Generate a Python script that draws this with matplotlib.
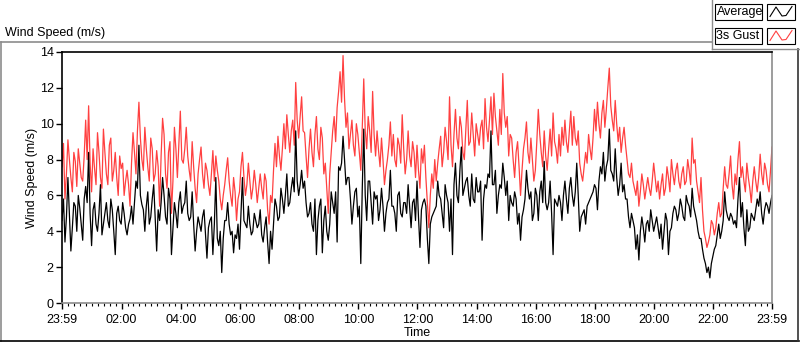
import numpy as np
import matplotlib.pyplot as plt
from matplotlib.lines import Line2D
from matplotlib.patches import Rectangle

plt.rcParams['font.family'] = ['Liberation Sans', 'DejaVu Sans']

# one reading every 3 minutes, starting at 23:59 of the previous day
STEP_MIN = 3

gust_ms = [
    # 23:59 - 04:00
    7.6, 8.9, 5.8, 7.2, 9.1, 8.0, 7.0, 6.2, 8.4, 7.9, 6.5, 8.6, 7.8, 7.0, 6.8, 8.2, 10.2, 8.0, 11.0, 7.8,
    6.2, 8.6, 7.5, 6.6, 9.5, 8.4, 7.0, 6.4, 9.7, 8.4, 7.2, 6.6, 8.8, 9.2, 6.8, 7.4, 8.4, 7.0, 6.0, 8.2,
    7.5, 7.8, 6.0, 6.8, 7.4, 6.6, 5.4, 7.8, 9.5, 8.4, 7.2, 9.6, 11.2, 9.2, 8.0, 7.4, 9.8, 8.6, 7.6, 6.8,
    9.2, 8.6, 6.8, 7.2, 8.5, 7.6, 5.4, 8.2, 10.3, 9.4, 7.2, 6.4, 8.4, 9.0, 5.0, 6.8, 9.8, 8.6, 7.0, 8.8,
    10.7, 8.0,
    # 04:00 - 08:00
    7.8, 8.6, 9.8, 8.2, 7.4, 6.8, 9.0, 7.6, 6.4, 5.6, 7.2, 8.0, 8.7, 7.2, 6.4, 7.8, 7.4, 6.6, 6.0, 7.2,
    8.5, 6.8, 8.2, 7.4, 6.8, 5.8, 5.2, 6.0, 6.6, 7.4, 8.1, 6.8, 6.0, 5.4, 7.0, 6.2, 4.6, 5.8, 6.2, 7.6,
    8.4, 7.0, 6.0, 6.6, 7.8, 6.8, 5.8, 6.4, 7.4, 6.6, 5.6, 6.4, 7.2, 6.4, 5.8, 7.2, 6.8, 5.2, 4.4, 6.0,
    5.6, 7.4, 8.9, 7.6, 9.3, 8.2, 7.4, 8.6, 10.0, 8.6, 10.5, 9.4, 8.4, 9.6, 10.2, 8.8, 12.3, 10.2, 9.2, 10.4,
    11.5, 9.6,
    # 08:00 - 12:00
    9.5, 8.2, 7.0, 8.6, 9.7, 8.4, 7.6, 9.4, 10.4, 8.6, 8.0, 9.8, 9.2, 7.2, 7.8, 6.4, 5.0, 7.2, 8.4, 9.6,
    10.4, 9.0, 10.9, 11.8, 12.9, 11.2, 13.8, 11.4, 9.8, 10.6, 8.6, 9.4, 10.2, 8.8, 8.2, 10.0, 9.4, 8.4, 7.4, 9.8,
    12.5, 9.6, 8.6, 10.4, 9.6, 8.4, 11.8, 9.4, 8.2, 9.6, 8.5, 7.6, 9.2, 8.0, 6.6, 7.4, 8.0, 8.8, 10.1, 8.2,
    9.4, 8.0, 7.6, 9.2, 8.8, 7.8, 10.5, 8.6, 7.2, 8.0, 9.6, 8.2, 7.6, 9.0, 8.4, 7.0, 8.8, 7.4, 6.4, 8.6,
    7.8, 8.8,
    # 12:00 - 16:00
    7.0, 5.6, 4.2, 6.0, 7.2, 6.4, 8.0, 6.8, 7.8, 8.6, 9.3, 7.6, 8.4, 9.8, 9.0, 8.0, 11.5, 8.8, 7.6, 9.4,
    10.8, 9.2, 8.6, 10.4, 9.8, 8.4, 8.0, 9.6, 11.3, 8.8, 9.0, 10.6, 9.4, 8.2, 10.0, 9.4, 8.8, 9.8, 10.2, 8.6,
    11.4, 9.8, 9.0, 10.2, 11.5, 9.4, 11.7, 10.4, 9.6, 8.8, 10.8, 9.4, 12.8, 10.6, 9.8, 10.4, 8.2, 9.4, 9.2, 8.0,
    7.0, 8.4, 9.0, 7.6, 6.0, 7.4, 8.6, 9.2, 10.1, 8.4, 7.8, 9.2, 8.0, 6.8, 7.4, 9.0, 10.8, 9.4, 8.4, 7.6,
    9.6, 8.2,
    # 16:00 - 20:00
    7.4, 8.6, 9.7, 8.2, 10.6, 9.0, 8.6, 7.8, 9.4, 8.2, 9.8, 8.8, 10.2, 9.0, 8.4, 9.6, 10.7, 8.8, 10.4, 9.2,
    8.8, 9.6, 7.8, 7.2, 6.8, 7.6, 8.4, 7.8, 9.4, 8.6, 8.0, 9.2, 10.8, 9.6, 11.2, 10.0, 9.2, 10.6, 11.3, 9.8,
    10.8, 12.0, 13.1, 11.0, 10.2, 9.6, 11.3, 10.0, 9.0, 9.8, 8.4, 9.2, 9.8, 8.8, 8.0, 7.2, 7.0, 7.8, 6.8, 6.4,
    6.0, 6.8, 5.4, 6.2, 7.2, 6.6, 5.8, 6.4, 7.0, 6.4, 6.0, 6.8, 7.8, 7.0, 6.2, 6.8, 5.8, 6.6, 7.2, 6.0,
    6.4, 7.6,
    # 20:00 - 23:59
    7.0, 6.2, 8.0, 7.2, 6.6, 7.4, 7.8, 6.8, 6.4, 7.2, 7.6, 6.6, 6.8, 8.0, 7.4, 6.6, 9.2, 7.8, 8.0, 6.8,
    6.2, 5.6, 7.0, 5.2, 4.0, 3.6, 3.1, 3.4, 3.8, 4.6, 4.4, 3.8, 4.2, 5.0, 5.6, 4.8, 5.0, 6.4, 7.6, 6.6,
    6.4, 7.2, 8.2, 6.6, 5.8, 7.2, 6.6, 8.0, 9.0, 7.0, 7.6, 6.8, 6.2, 7.8, 7.0, 6.4, 5.6, 6.8, 7.6, 6.8,
    6.2, 7.0, 8.3, 7.2, 6.6, 7.8, 7.4, 6.6, 6.2, 7.4, 8.7,
]

average_ms = [
    # 23:59 - 04:00
    4.6, 5.8, 3.4, 4.8, 7.0, 5.0, 2.9, 4.2, 5.6, 5.4, 4.0, 6.0, 5.3, 4.4, 3.5, 5.8, 6.5, 5.6, 8.4, 5.0,
    3.2, 5.2, 5.6, 4.4, 4.0, 5.0, 6.6, 3.8, 4.4, 5.0, 5.6, 4.6, 4.2, 5.8, 5.2, 4.0, 2.7, 5.0, 5.4, 4.6,
    4.4, 5.6, 5.0, 4.2, 3.8, 4.4, 4.7, 5.4, 4.4, 5.6, 6.8, 6.4, 8.8, 6.0, 5.5, 5.2, 4.0, 5.4, 6.2, 4.4,
    4.8, 5.8, 6.6, 4.8, 2.9, 5.2, 4.6, 5.6, 7.0, 6.0, 4.8, 4.4, 6.4, 5.8, 2.7, 4.2, 5.6, 5.0, 4.2, 5.6,
    6.2, 5.0,
    # 04:00 - 08:00
    5.4, 5.6, 6.8, 5.0, 4.6, 4.8, 6.2, 4.4, 2.9, 4.0, 4.8, 4.4, 4.0, 4.8, 5.2, 3.8, 2.5, 4.2, 4.6, 4.8,
    2.7, 4.4, 7.0, 3.6, 3.2, 4.0, 1.7, 3.6, 4.6, 4.6, 5.6, 4.4, 3.8, 4.0, 2.8, 3.8, 3.6, 4.4, 3.0, 5.0,
    7.0, 4.6, 4.4, 4.2, 5.4, 4.4, 3.8, 4.0, 5.0, 4.6, 4.2, 4.4, 5.2, 3.8, 3.4, 4.2, 4.8, 3.4, 2.2, 4.0,
    3.0, 4.4, 5.8, 5.4, 4.6, 4.8, 6.4, 5.8, 5.0, 6.0, 7.2, 5.4, 5.6, 6.4, 7.0, 6.2, 9.6, 6.8, 6.0, 6.6,
    7.4, 6.4,
    # 08:00 - 12:00
    6.8, 5.6, 4.8, 5.0, 5.6, 4.4, 4.0, 5.8, 2.7, 4.6, 5.4, 5.8, 2.8, 4.6, 5.4, 4.0, 3.5, 4.4, 6.2, 5.6,
    5.0, 6.2, 3.4, 7.6, 7.4, 7.8, 9.3, 8.0, 6.6, 7.0, 7.0, 5.8, 4.4, 5.4, 6.2, 6.4, 4.8, 5.4, 2.2, 6.4,
    9.7, 6.0, 4.6, 6.8, 6.8, 5.6, 4.4, 6.2, 5.8, 6.0, 4.6, 5.2, 6.4, 5.4, 4.0, 5.0, 5.6, 5.8, 7.4, 5.4,
    5.4, 5.0, 4.0, 6.0, 6.2, 5.0, 4.8, 5.6, 5.6, 5.0, 6.6, 5.4, 4.2, 5.6, 5.8, 4.6, 6.8, 4.8, 3.1, 5.2,
    5.6, 5.8,
    # 12:00 - 16:00
    5.4, 3.6, 2.2, 4.4, 4.8, 5.0, 5.2, 5.4, 6.8, 6.0, 5.8, 5.0, 4.2, 6.6, 6.0, 5.6, 4.0, 5.8, 2.7, 6.6,
    7.8, 6.0, 5.6, 7.4, 8.7, 6.0, 6.4, 6.8, 7.0, 6.0, 5.4, 7.2, 5.8, 5.6, 7.0, 6.2, 6.2, 6.8, 3.5, 5.8,
    6.6, 6.4, 7.2, 7.0, 9.6, 6.6, 6.6, 7.4, 5.0, 6.0, 6.6, 6.4, 7.8, 7.0, 6.0, 6.8, 4.6, 6.0, 5.6, 5.4,
    6.2, 5.8, 4.4, 5.0, 3.5, 4.8, 5.2, 5.8, 7.4, 6.4, 5.8, 6.2, 4.6, 5.0, 6.4, 6.0, 4.6, 6.2, 6.8, 5.6,
    7.9, 5.6,
    # 16:00 - 20:00
    5.2, 5.6, 6.8, 5.0, 2.7, 5.8, 5.6, 5.4, 6.0, 5.6, 4.6, 6.0, 6.8, 5.8, 5.0, 6.4, 7.0, 6.0, 5.4, 6.2,
    7.8, 6.0, 4.0, 4.8, 5.0, 5.2, 4.4, 5.4, 5.6, 5.8, 6.0, 6.2, 6.6, 6.4, 5.2, 6.8, 7.6, 7.2, 8.4, 6.8,
    7.6, 8.0, 9.7, 7.4, 7.2, 6.8, 8.6, 7.0, 6.0, 6.6, 7.8, 6.2, 6.6, 5.8, 5.8, 4.8, 4.2, 5.0, 4.6, 4.2,
    3.0, 3.8, 2.4, 4.0, 4.8, 4.2, 3.4, 4.4, 4.6, 4.0, 5.2, 4.6, 4.0, 4.4, 4.8, 4.2, 3.6, 4.4, 3.0, 4.0,
    5.0, 4.6,
    # 20:00 - 23:59
    2.7, 4.0, 4.2, 5.0, 5.4, 5.2, 4.6, 5.0, 5.8, 5.4, 4.8, 4.6, 6.0, 5.6, 5.4, 4.8, 6.4, 5.4, 5.0, 4.6,
    4.0, 3.6, 3.6, 3.0, 2.5, 2.2, 1.7, 2.0, 1.4, 2.2, 2.6, 3.0, 3.2, 3.8, 4.4, 3.6, 4.0, 4.6, 6.2, 5.2,
    4.8, 4.6, 5.0, 4.8, 4.4, 4.6, 4.2, 5.8, 7.0, 4.8, 5.6, 4.2, 3.2, 5.2, 4.0, 4.2, 5.0, 4.8, 4.6, 5.2,
    5.8, 5.4, 6.2, 5.0, 4.4, 5.2, 5.6, 5.4, 5.0, 5.6, 6.0,
]

y_ticks = [0, 2, 4, 6, 8, 10, 12, 14]
x_tick_minutes = [0, 121, 241, 361, 481, 601, 721, 841, 961, 1081, 1201, 1321, 1440]
x_tick_labels = ["23:59", "02:00", "04:00", "06:00", "08:00", "10:00", "12:00",
                 "14:00", "16:00", "18:00", "20:00", "22:00", "23:59"]
series_names = ["Average", "3s Gust"]
series_colors = ["#000000", "#ff4040"]

W, H = 800, 342
fig = plt.figure(figsize=(W / 100, H / 100), dpi=100)
fig.patch.set_facecolor("white")

# frame / decoration layer in pixel coordinates
deco = fig.add_axes([0, 0, 1, 1], zorder=0)
deco.set_xlim(0, W)
deco.set_ylim(H, 0)
deco.axis("off")
grey = "#8c8c8c"
deco.add_line(Line2D([0.5, 712], [42, 42], color=grey, lw=1.2))
deco.add_line(Line2D([0.8, 0.8], [42, 341], color=grey, lw=1.2))
deco.add_line(Line2D([0, 799], [340.8, 340.8], color="black", lw=1.2))
deco.add_line(Line2D([798.2, 798.2], [49, 341], color="#333333", lw=1.2))
deco.add_line(Line2D([712, 712], [0, 49], color=grey, lw=1.0))
deco.add_line(Line2D([712, 799], [49, 49], color=grey, lw=1.0))
deco.text(5, 33, "Wind Speed (m/s)", fontsize=9, va="center", ha="left")

# legend boxes with zigzag icons
for i, (name, col) in enumerate(zip(series_names, series_colors)):
    top = 4 + i * 24
    deco.add_patch(Rectangle((715, top), 47, 15.5, fill=False, ec="black", lw=0.8))
    deco.text(716.5, top + 8, name, fontsize=9, va="center", ha="left")
    deco.add_patch(Rectangle((767, top), 28, 15.5, fill=False, ec="black", lw=0.8))
    zx = [770, 776, 782, 786, 792]
    zy = [top + 12.5, top + 3, top + 12, top + 11.5, top + 2.5]
    deco.add_line(Line2D(zx, zy, color=col, lw=0.8))

# chart area
ax = fig.add_axes([62 / W, 1 - 303 / H, (772 - 62) / W, (303 - 52) / H], zorder=1)
minutes = np.arange(len(gust_ms)) * STEP_MIN
ax.plot(minutes, gust_ms, color=series_colors[1], lw=0.9)
ax.plot(minutes, average_ms, color=series_colors[0], lw=0.9)

ax.set_xlim(0, 1440)
ax.set_ylim(0, 14)
ax.set_yticks(y_ticks)
ax.set_xticks(x_tick_minutes)
ax.set_xticklabels(x_tick_labels)
ax.set_xticks(np.arange(13, 1440, 12), minor=True)
ax.tick_params(axis="both", which="major", labelsize=9, length=4, width=1)
ax.tick_params(axis="x", which="major", pad=4)
ax.tick_params(axis="y", which="major", pad=2)
ax.tick_params(axis="x", which="minor", length=2.5, width=0.8)
ax.spines["top"].set_color("black")
ax.spines["left"].set_color("black")
ax.spines["right"].set_color(grey)
ax.spines["bottom"].set_color(grey)
for s in ax.spines.values():
    s.set_linewidth(1.2)
ax.set_xlabel("Time", fontsize=9, labelpad=1)
ax.set_ylabel("Wind Speed (m/s)", fontsize=9, labelpad=1)

fig.savefig("out.png", dpi=100)
